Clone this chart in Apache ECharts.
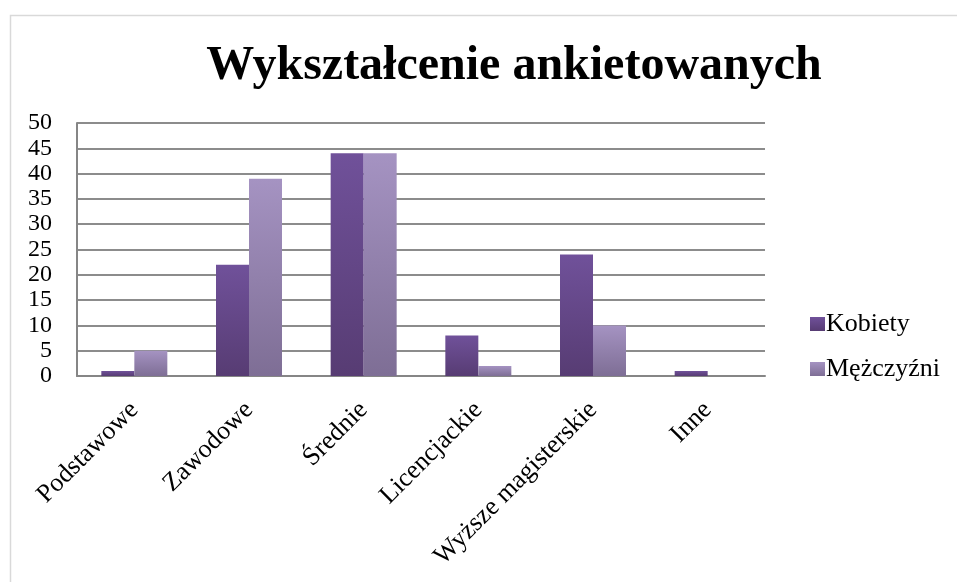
<!DOCTYPE html>
<html>
<head>
<meta charset="utf-8">
<script src="https://cdn.jsdelivr.net/npm/echarts@6/dist/echarts.min.js"></script>
<style>
html,body{margin:0;padding:0;background:#fff;}
#chart{width:957px;height:582px;}
</style>
</head>
<body>
<div id="chart"></div>
<script>
const titleText = 'Wykształcenie ankietowanych';
const categories = ['Podstawowe', 'Zawodowe', 'Średnie', 'Licencjackie', 'Wyższe magisterskie', 'Inne'];
const seriesNames = ['Kobiety', 'Mężczyźni'];
const kobiety = [1, 22, 44, 8, 24, 1];
const mezczyzni = [5, 39, 44, 2, 10, 0];

const font = '"Liberation Serif", "Times New Roman", serif';
function grad(top, bottom) {
  return new echarts.graphic.LinearGradient(0, 0, 0, 1, [
    {offset: 0, color: top}, {offset: 1, color: bottom}
  ]);
}
const chart = echarts.init(document.getElementById('chart'), null, {renderer: 'canvas'});
chart.setOption({
  backgroundColor: '#fff',
  animation: false,
  graphic: [{
    type: 'rect', shape: {x: 10.5, y: 15.5, width: 970, height: 600},
    style: {fill: 'none', stroke: '#d9d9d9', lineWidth: 1.5}, silent: true, z: -1
  }],
  title: {
    text: titleText, left: 509, top: 38, textAlign: 'center',
    textStyle: {fontFamily: font, fontSize: 48, fontWeight: 'bold', color: '#000'}
  },
  legend: {
    orient: 'vertical', left: 805, top: 306, itemWidth: 15, itemHeight: 14, itemGap: 19,
    icon: 'rect',
    textStyle: {fontFamily: font, fontSize: 26, color: '#000', padding: [0, 0, 0, -4]},
    data: seriesNames
  },
  grid: {left: 77, right: 192, top: 123, bottom: 206, containLabel: false},
  xAxis: {
    type: 'category', data: categories,
    axisLine: {show: true, lineStyle: {color: '#868686', width: 2}},
    axisTick: {show: false},
    axisLabel: {rotate: 45, interval: 0, margin: 30, fontFamily: font, fontSize: 26, color: '#000'}
  },
  yAxis: {
    type: 'value', min: 0, max: 50, interval: 5,
    axisLine: {show: true, lineStyle: {color: '#868686', width: 2}},
    axisTick: {show: false},
    splitLine: {show: true, lineStyle: {color: '#8c8c8c', width: 2}},
    axisLabel: {margin: 25, fontFamily: font, fontSize: 24, color: '#000'}
  },
  series: [{
    name: seriesNames[0], type: 'bar', data: kobiety, barWidth: 33, barGap: '0%',
    itemStyle: {color: grad('#70519a', '#573c73')}
  }, {
    name: seriesNames[1], type: 'bar', data: mezczyzni, barWidth: 33, barGap: '0%',
    itemStyle: {color: grad('#a593c2', '#7e6e95')}
  }]
});
</script>
</body>
</html>
